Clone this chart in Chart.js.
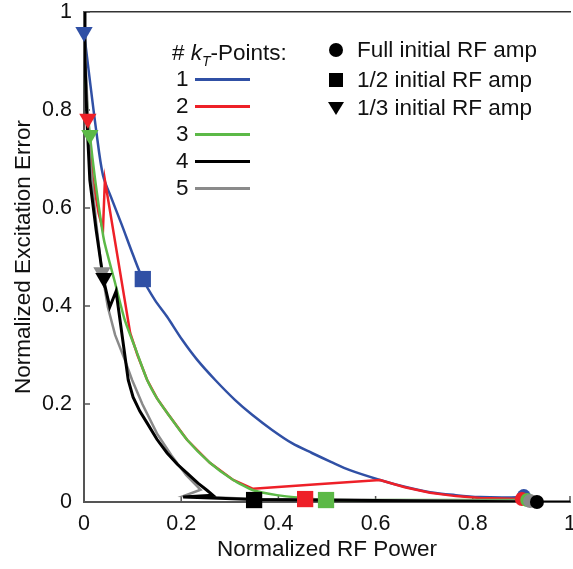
<!DOCTYPE html>
<html lang="en">
<head>
<meta charset="UTF-8">
<title>Normalized Excitation Error vs RF Power</title>
<script src="https://cdn.jsdelivr.net/npm/chart.js@4.4.1/dist/chart.umd.min.js"></script>
<style>
    body {
        margin: 0;
        overflow: hidden;
        background: #fff;
        font-family: "Liberation Sans", Arial, sans-serif;
        color: #111;
    }
    .wrap {
        position: relative;
        width: 600px;
        height: 569px;
    }
    .lg {
        position: absolute;
        font-size: 22.5px;
        line-height: 26px;
        white-space: nowrap;
    }
    .swatch {
        position: absolute;
        width: 55px;
        height: 3px;
    }
    .dot { position: absolute; width: 14px; height: 14px; border-radius: 50%; background: #000; }
    .sq { position: absolute; width: 14px; height: 14px; background: #000; }
    .tri {
        position: absolute; width: 0; height: 0;
        border-left: 8px solid transparent;
        border-right: 8px solid transparent;
        border-top: 13px solid #000;
    }
</style>
</head>
<body>
<div class="wrap">
    <canvas id="chart" width="600" height="569"></canvas>

    <!-- legend, k_T points -->
    <div class="lg" style="left:172px; top:40px;"># <i>k</i><sub style="font-size:14px;"><i>T</i></sub>-Points:</div>
    <div class="lg" style="left:176px; top:66px;">1</div>
    <div class="swatch" style="left:195px; top:78px; background:#3050a5;"></div>
    <div class="lg" style="left:176px; top:93px;">2</div>
    <div class="swatch" style="left:195px; top:105px; background:#ee2028;"></div>
    <div class="lg" style="left:176px; top:121px;">3</div>
    <div class="swatch" style="left:195px; top:133px; background:#5cb947;"></div>
    <div class="lg" style="left:176px; top:148px;">4</div>
    <div class="swatch" style="left:195px; top:160px; background:#000;"></div>
    <div class="lg" style="left:176px; top:175px;">5</div>
    <div class="swatch" style="left:195px; top:187px; background:#8a8a8a;"></div>

    <!-- legend, markers -->
    <div class="dot" style="left:329px; top:43px;"></div>
    <div class="lg" style="left:357px; top:37px;">Full initial RF amp</div>
    <div class="sq" style="left:329px; top:73px;"></div>
    <div class="lg" style="left:357px; top:67px;">1/2 initial RF amp</div>
    <div class="tri" style="left:328px; top:102px;"></div>
    <div class="lg" style="left:357px; top:95px;">1/3 initial RF amp</div>
</div>

<script>
    // axis ticks
    const tickValues = [0, 0.2, 0.4, 0.6, 0.8, 1];
    const tickLabels = ['0', '0.2', '0.4', '0.6', '0.8', '1'];

    // 1 kT-point
    const kt1X = [0, 0.012, 0.025, 0.039, 0.058, 0.078, 0.101, 0.121, 0.146, 0.171, 0.202, 0.233, 0.270, 0.311, 0.346, 0.387, 0.428, 0.469, 0.508, 0.547, 0.609, 0.660, 0.712, 0.765, 0.815, 0.860, 0.903];
    const kt1Y = [0.959, 0.861, 0.759, 0.667, 0.616, 0.565, 0.504, 0.455, 0.412, 0.378, 0.331, 0.290, 0.249, 0.208, 0.178, 0.147, 0.120, 0.100, 0.082, 0.065, 0.045, 0.031, 0.020, 0.014, 0.010, 0.009, 0.010];

    // 2 kT-points
    const kt2X = [0.008, 0.018, 0.030, 0.039, 0.043, 0.095, 0.110, 0.130, 0.150, 0.171, 0.212, 0.259, 0.307, 0.348, 0.480, 0.609, 0.660, 0.712, 0.765, 0.815, 0.860, 0.901];
    const kt2Y = [0.782, 0.660, 0.590, 0.555, 0.657, 0.345, 0.300, 0.249, 0.212, 0.182, 0.127, 0.080, 0.045, 0.027, 0.036, 0.045, 0.030, 0.019, 0.012, 0.008, 0.007, 0.006];

    // 3 kT-points
    const kt3X = [0, 0.005, 0.012, 0.023, 0.041, 0.064, 0.084, 0.107, 0.130, 0.150, 0.171, 0.212, 0.259, 0.307, 0.348, 0.397, 0.451, 0.498, 0.700, 0.912];
    const kt3Y = [0.920, 0.830, 0.749, 0.657, 0.535, 0.447, 0.371, 0.310, 0.249, 0.212, 0.182, 0.127, 0.080, 0.045, 0.024, 0.014, 0.008, 0.004, 0.004, 0.004];

    // 4 kT-points
    const kt4X = [0, 0.002, 0.006, 0.012, 0.025, 0.039, 0.053, 0.066, 0.091, 0.101, 0.115, 0.130, 0.150, 0.171, 0.192, 0.212, 0.235, 0.253, 0.265, 0.204, 0.350, 0.600, 0.932, 1.0];
    const kt4Y = [1.0, 0.902, 0.780, 0.657, 0.555, 0.459, 0.398, 0.430, 0.249, 0.214, 0.185, 0.161, 0.128, 0.100, 0.077, 0.059, 0.038, 0.024, 0.014, 0.010, 0.005, 0.003, 0.0, 0.0];

    // 5 kT-points
    const kt5X = [0, 0.004, 0.012, 0.025, 0.037, 0.049, 0.064, 0.084, 0.099, 0.120, 0.150, 0.180, 0.210, 0.240, 0.205, 0.350, 0.600, 0.918];
    const kt5Y = [1.0, 0.880, 0.700, 0.570, 0.469, 0.398, 0.341, 0.290, 0.249, 0.200, 0.140, 0.095, 0.055, 0.025, 0.012, 0.006, 0.004, 0.002];

    // end points for each initial RF amplitude (order: 1, 2, 3, 5, 4 kT-points)
    const fullAmpX = [0.905, 0.901, 0.912, 0.918, 0.932];
    const fullAmpY = [0.012, 0.006, 0.004, 0.002, 0.0];
    const halfAmpX = [0.121, 0.455, 0.498, 0.350];
    const halfAmpY = [0.455, 0.006, 0.004, 0.004];
    const thirdAmpX = [0, 0.008, 0.012, 0.037, 0.041];
    const thirdAmpY = [0.959, 0.782, 0.749, 0.469, 0.457];

    const blue = '#3050a5', red = '#ee2028', green = '#5cb947', black = '#000000', gray = '#8a8a8a';
    const fullAmpColors = [blue, red, green, gray, black];
    const halfAmpColors = [blue, red, green, black];
    const thirdAmpColors = [blue, red, green, gray, black];

    const pts = (xs, ys) => xs.map((x, i) => ({ x: x, y: ys[i] }));

    function curve(xs, ys, color, width, order, tension) {
        return {
            data: pts(xs, ys),
            showLine: true,
            borderColor: color,
            borderWidth: width,
            pointRadius: 0,
            tension: tension,
            order: order
        };
    }

    function markers(xs, ys, colors, style, radius, rotation) {
        return {
            data: pts(xs, ys),
            showLine: false,
            pointStyle: style,
            pointRadius: radius,
            pointRotation: rotation,
            pointBackgroundColor: colors,
            pointBorderColor: colors,
            pointBorderWidth: 0,
            clip: false,
            order: 0
        };
    }

    const tickFont = { family: '"Liberation Sans", Arial, sans-serif', size: 21.5 };
    const titleFont = { family: '"Liberation Sans", Arial, sans-serif', size: 22.5 };

    // small tick marks pointing into the plot
    const innerTicks = {
        id: 'innerTicks',
        beforeDatasetsDraw(chart) {
            const ctx = chart.ctx;
            const xs = chart.scales.x, ys = chart.scales.y;
            ctx.save();
            ctx.strokeStyle = '#555';
            ctx.lineWidth = 1.5;
            tickValues.forEach(v => {
                const py = ys.getPixelForValue(v);
                ctx.beginPath();
                ctx.moveTo(xs.left, py);
                ctx.lineTo(xs.left + 6, py);
                ctx.stroke();
                const px = xs.getPixelForValue(v);
                ctx.beginPath();
                ctx.moveTo(px, ys.bottom);
                ctx.lineTo(px, ys.bottom - 6);
                ctx.stroke();
            });
            ctx.restore();
        }
    };

    new Chart(document.getElementById('chart'), {
        type: 'scatter',
        data: {
            datasets: [
                markers(fullAmpX, fullAmpY, fullAmpColors, 'circle', 7, 0),
                markers(halfAmpX, halfAmpY, halfAmpColors, 'rect', 11.5, 0),
                markers(thirdAmpX, thirdAmpY, thirdAmpColors, 'triangle', 10, 180),
                curve(kt1X, kt1Y, blue, 2.5, 5, 0.3),
                curve(kt2X, kt2Y, red, 2.5, 4, 0),
                curve(kt3X, kt3Y, green, 2.5, 3, 0.2),
                curve(kt5X, kt5Y, gray, 2.5, 2, 0),
                curve(kt4X, kt4Y, black, 3, 1, 0)
            ]
        },
        options: {
            responsive: false,
            animation: false,
            layout: { padding: { top: 0, right: 30, left: 0, bottom: 0 } },
            plugins: {
                legend: { display: false },
                tooltip: { enabled: false }
            },
            scales: {
                x: {
                    type: 'linear',
                    position: 'bottom',
                    min: 0,
                    max: 1,
                    afterBuildTicks: s => { s.ticks = tickValues.map(v => ({ value: v })); },
                    afterFit: s => { s.height = 67; },
                    ticks: {
                        callback: (v, i) => tickLabels[i],
                        font: tickFont,
                        color: '#111',
                        padding: 9,
                        maxRotation: 0
                    },
                    grid: { drawOnChartArea: false, drawTicks: false },
                    border: { display: true, color: '#555', width: 2 },
                    title: {
                        display: true,
                        text: 'Normalized RF Power',
                        font: titleFont,
                        color: '#111',
                        padding: { top: 0, bottom: 5.5 }
                    }
                },
                x2: {
                    type: 'linear',
                    position: 'top',
                    min: 0,
                    max: 1,
                    afterFit: s => { s.height = 0; },
                    ticks: { display: false },
                    grid: { drawOnChartArea: false, drawTicks: false },
                    border: { display: true, color: '#333', width: 1.5 }
                },
                y: {
                    type: 'linear',
                    min: 0,
                    max: 1,
                    afterBuildTicks: s => { s.ticks = tickValues.map(v => ({ value: v })); },
                    afterFit: s => { s.width = 84; s.paddingTop = 12; s.paddingBottom = 12; },
                    ticks: {
                        callback: (v, i) => tickLabels[i],
                        font: tickFont,
                        color: '#111',
                        padding: 12
                    },
                    grid: { drawOnChartArea: false, drawTicks: false },
                    border: { display: true, color: '#555', width: 2 },
                    title: {
                        display: true,
                        text: 'Normalized Excitation Error',
                        font: titleFont,
                        color: '#111',
                        padding: { top: 10, bottom: 0 }
                    }
                }
            }
        },
        plugins: [innerTicks]
    });
</script>
</body>
</html>
